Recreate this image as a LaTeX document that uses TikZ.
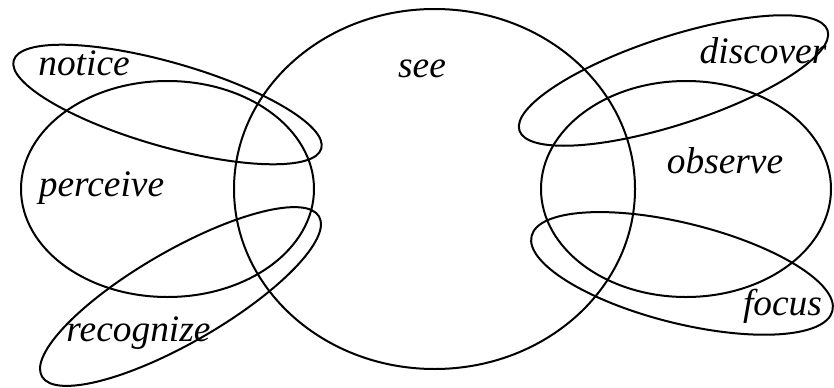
\documentclass[tikz,border=0pt]{standalone}
\usepackage{fontspec}
\setmainfont{Liberation Serif}
\usetikzlibrary{positioning}

\begin{document}
\begin{tikzpicture}[
        x=0.5pt, y=0.5pt,
        region/.style={draw=black, line width=1pt},
        word/.style={font=\fontsize{18.7}{22}\selectfont\itshape, anchor=base, inner sep=0pt}
    ]
        \useasboundingbox (0,0) rectangle (834,387);

        % big circle in the middle
        \draw[region] (434.5,198) ellipse [x radius=200.5, y radius=180];
        \node[word] (see) at (422,310) {see};

        % left side
        \draw[region] (167.5,198) ellipse [x radius=146.5, y radius=108];
        \draw[region, rotate around={-16:(167.5,282.5)}] (167.5,282.5) ellipse [x radius=160, y radius=42];
        \draw[region, rotate around={30:(180.5,90.5)}] (180.5,90.5) ellipse [x radius=160, y radius=46];
        \node[word] (notice) at (84,312) {notice};
        \node[word] (perceive) at (101.5,191) {perceive};
        \node[word] (recognize) at (138.5,45.3) {recognize};

        % right side
        \draw[region] (686,198) ellipse [x radius=145, y radius=108];
        \draw[region, rotate around={18:(673.5,306.5)}] (673.5,306.5) ellipse [x radius=162, y radius=44];
        \draw[region, rotate around={-14:(682,113.6)}] (682,113.6) ellipse [x radius=155, y radius=50];
        \node[word] (discover) at (763,323.7) {discover};
        \node[word] (observe) at (725,213.7) {observe};
        \node[word] (focus) at (782.5,72) {focus};
    \end{tikzpicture}
\end{document}
